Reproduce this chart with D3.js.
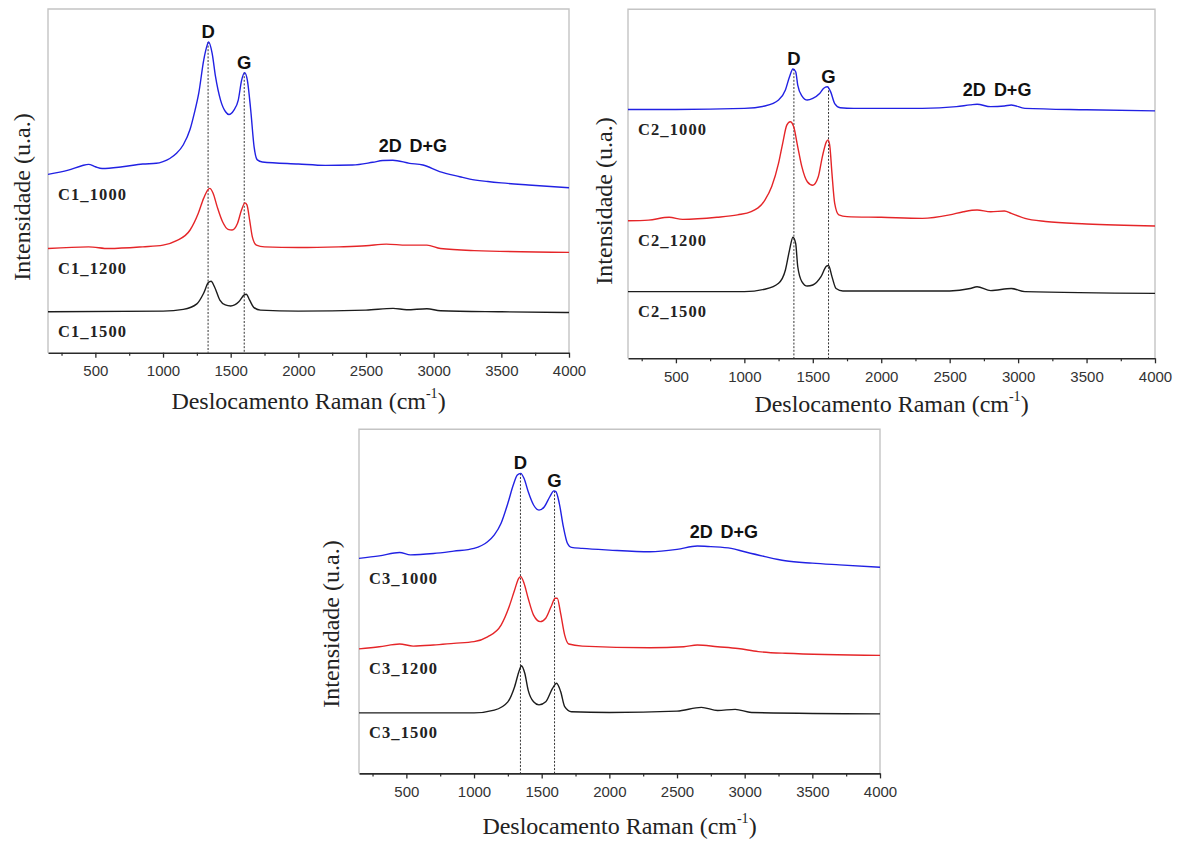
<!DOCTYPE html>
<html>
<head>
<meta charset="utf-8">
<script src="https://cdn.jsdelivr.net/npm/d3@7"></script>
<style>
  body { margin: 0; background: #fff; }
  svg { display: block; }
</style>
</head>
<body>
<svg id="chart" width="1184" height="842"></svg>
<script>
// Raman spectra, [wavenumber (cm-1), intensity (a.u.)]
const c1_1000 = [[150,51.9],[300,53.1],[400,54.4],[450,54.8],[500,54.1],[550,53.6],[700,54.1],[850,54.9],[950,55.1],[1000,55.6],[1050,56.5],[1100,58.0],[1150,60.5],[1200,65.0],[1230,69.5],[1264,75.5],[1301,85.2],[1320,88.6],[1337,90.4],[1363,87.1],[1388,80.3],[1425,73.5],[1462,70.1],[1487,69.3],[1524,70.6],[1556,73.5],[1581,79.3],[1603,81.5],[1623,79.3],[1648,70.6],[1673,59.9],[1697,56.1],[1734,55.5],[2000,54.9],[2200,54.5],[2400,54.6],[2550,55.4],[2624,55.9],[2698,56.0],[2822,55.1],[2921,54.6],[3044,52.7],[3193,51.2],[3267,50.5],[3400,49.8],[3500,49.4],[3700,48.8],[4000,48.0]];
const c1_1200 = [[150,30.3],[450,30.8],[600,30.3],[850,30.8],[1000,31.3],[1100,32.6],[1200,35.7],[1260,40.5],[1300,44.9],[1330,47.3],[1345,47.8],[1370,46.4],[1400,42.5],[1440,38.1],[1480,35.9],[1510,35.7],[1550,37.6],[1580,41.5],[1605,43.6],[1620,43.0],[1640,38.6],[1660,33.7],[1690,31.3],[1750,30.8],[2000,30.6],[2300,30.8],[2500,31.1],[2650,31.6],[2800,31.3],[2950,31.3],[3050,30.3],[3300,29.7],[4000,29.2]];
const c1_1500 = [[150,11.9],[1000,12.1],[1150,12.6],[1250,14.2],[1300,17.3],[1335,20.4],[1355,20.8],[1380,19.2],[1420,15.3],[1460,13.9],[1500,13.6],[1560,14.8],[1600,16.8],[1615,17.0],[1640,15.3],[1670,13.2],[1720,12.4],[2000,12.1],[2500,12.4],[2700,12.9],[2800,12.5],[2950,12.8],[3050,12.2],[3500,11.9],[4000,11.7]];

const c2_1000 = [[150,71.3],[500,71.3],[1000,71.6],[1150,72.3],[1250,74.0],[1300,76.9],[1330,80.7],[1355,82.9],[1375,82.1],[1390,78.3],[1420,75.2],[1460,74.0],[1500,74.5],[1550,75.9],[1580,77.4],[1605,77.8],[1630,76.4],[1660,73.0],[1700,71.8],[1800,71.6],[2300,71.6],[2550,72.1],[2650,72.6],[2700,72.8],[2800,72.1],[2900,72.3],[2950,72.6],[3050,71.6],[3500,71.2],[4000,70.9]];
const c2_1200 = [[150,39.4],[300,39.6],[450,40.4],[550,39.8],[800,40.4],[950,41.1],[1050,42.0],[1150,45.3],[1200,49.2],[1250,55.9],[1280,61.6],[1310,66.8],[1335,67.8],[1360,66.4],[1390,60.6],[1420,54.9],[1460,50.6],[1500,49.6],[1540,52.0],[1570,57.8],[1600,62.1],[1612,62.6],[1625,60.6],[1640,53.0],[1660,44.4],[1690,41.1],[1750,40.6],[2000,40.4],[2300,40.1],[2500,41.1],[2600,42.0],[2700,42.5],[2800,42.0],[2900,42.2],[2950,41.5],[3050,40.1],[3200,39.2],[3500,38.5],[4000,37.9]];
const c2_1500 = [[150,19.1],[1000,19.1],[1150,19.8],[1250,21.5],[1300,25.3],[1330,31.0],[1355,34.7],[1375,32.9],[1390,26.3],[1420,22.0],[1460,20.7],[1500,21.0],[1560,23.4],[1600,26.4],[1615,26.6],[1640,23.4],[1670,20.0],[1720,19.3],[2500,19.3],[2650,20.0],[2700,20.5],[2800,19.4],[2950,20.0],[3050,19.1],[4000,18.6]];

const c3_1000 = [[150,62.5],[300,63.2],[450,64.2],[530,63.5],[700,63.9],[850,64.6],[1000,65.4],[1100,67.3],[1150,69.3],[1200,72.7],[1250,78.5],[1290,83.8],[1320,86.7],[1345,87.2],[1370,85.7],[1400,81.9],[1440,78.0],[1480,76.5],[1520,77.5],[1560,80.4],[1590,82.1],[1605,81.9],[1630,78.5],[1660,71.7],[1690,66.9],[1720,65.7],[1800,65.4],[2000,64.9],[2300,64.4],[2500,65.1],[2650,66.1],[2750,65.9],[2900,65.4],[3000,64.4],[3150,63.0],[3300,61.8],[3500,61.1],[3700,60.6],[4000,59.9]];
const c3_1200 = [[150,36.2],[300,36.8],[450,37.6],[550,37.0],[700,37.3],[850,37.8],[1000,38.3],[1100,39.7],[1200,43.1],[1260,48.5],[1300,53.3],[1330,56.7],[1345,57.2],[1370,55.2],[1400,50.9],[1440,46.0],[1490,44.1],[1530,45.1],[1570,48.5],[1600,50.9],[1615,50.9],[1640,46.5],[1670,40.2],[1700,37.6],[1800,37.0],[2300,36.5],[2550,36.8],[2650,37.3],[2800,36.8],[2950,36.3],[3100,35.4],[3300,34.9],[4000,34.3]];
const c3_1500 = [[150,17.6],[1000,17.6],[1150,18.4],[1250,20.8],[1300,25.2],[1335,30.0],[1350,31.3],[1375,29.1],[1400,24.2],[1440,20.8],[1480,19.9],[1530,20.8],[1580,24.7],[1610,26.2],[1640,23.8],[1670,19.4],[1720,17.9],[2000,17.7],[2500,18.1],[2680,19.2],[2800,18.3],[2930,18.6],[3050,17.7],[4000,17.3]];

const sampleNames = [
  ["C1_1000", "C1_1200", "C1_1500"],
  ["C2_1000", "C2_1200", "C2_1500"],
  ["C3_1000", "C3_1200", "C3_1500"]
];
const seriesColors = ["#2121e3", "#e52528", "#1c1c1c"];

// Band positions marked on each panel (cm-1)
const dBand = [1333, 1362, 1343];
const gBand = [1600, 1615, 1595];
const overtoneLabels = ["2D", "D+G"];
const overtoneBands = [2680, 2960];

const xTickValues = [500, 1000, 1500, 2000, 2500, 3000, 3500, 4000];
const xMinorTicks = [250, 750, 1250, 1750, 2250, 2750, 3250, 3750];
const xDomain = [150, 4000];
const yDomain = [0, 100];

const panels = [
  { box: { left: 48, top: 9, right: 569, bottom: 352.7 }, series: [c1_1000, c1_1200, c1_1500], xTitleY: 401, yTitle: [21.5, 197] },
  { box: { left: 628, top: 9.3, right: 1155, bottom: 358.3 }, series: [c2_1000, c2_1200, c2_1500], xTitleY: 404, yTitle: [604, 201] },
  { box: { left: 359, top: 429.3, right: 880, bottom: 773.4 }, series: [c3_1000, c3_1200, c3_1500], xTitleY: 826, yTitle: [331, 624] }
];

const svg = d3.select("#chart");
const serif = "'Liberation Serif', 'Times New Roman', serif";
const sans = "'Liberation Sans', Arial, sans-serif";

panels.forEach((p, pi) => {
  const b = p.box;
  const x = d3.scaleLinear().domain(xDomain).range([b.left, b.right]);
  const y = d3.scaleLinear().domain(yDomain).range([b.bottom, b.top]);
  const g = svg.append("g").attr("class", "panel");

  // light frame on top, left and right
  g.append("path")
    .attr("d", `M${b.left},${b.bottom} V${b.top} H${b.right} V${b.bottom}`)
    .attr("fill", "none")
    .attr("stroke", "#c4c4c4")
    .attr("stroke-width", 1.4);

  // bottom axis: major and minor ticks
  const axis = d3.axisBottom(x).tickValues(xTickValues).tickSize(5).tickSizeOuter(0).tickPadding(6).tickFormat(d3.format("d"));
  const ax = g.append("g").attr("transform", `translate(0,${b.bottom})`).call(axis);
  ax.select(".domain").attr("stroke", "#2a2a2a").attr("stroke-width", 1.6);
  ax.selectAll(".tick line").attr("stroke", "#2a2a2a").attr("stroke-width", 1.3);
  ax.selectAll(".tick text")
    .attr("font-family", sans).attr("font-size", 15).attr("fill", "#333")
    .attr("dy", null).attr("y", 18).attr("dominant-baseline", "central");

  const minor = d3.axisBottom(x).tickValues(xMinorTicks).tickSize(3).tickFormat("");
  const mx = g.append("g").attr("transform", `translate(0,${b.bottom})`).call(minor);
  mx.select(".domain").remove();
  mx.selectAll(".tick line").attr("stroke", "#2a2a2a").attr("stroke-width", 1.2);

  // axis titles
  const xt = g.append("text")
    .attr("x", (b.left + b.right) / 2).attr("y", p.xTitleY)
    .attr("text-anchor", "middle").attr("dominant-baseline", "central")
    .attr("font-family", serif).attr("font-size", 24).attr("fill", "#222");
  xt.append("tspan").text("Deslocamento Raman (cm");
  xt.append("tspan").attr("dy", -8).attr("font-size", 14).text("-1");
  xt.append("tspan").attr("dy", 8).text(")");

  g.append("text")
    .attr("transform", `translate(${p.yTitle[0]},${p.yTitle[1]}) rotate(-90)`)
    .attr("text-anchor", "middle").attr("dominant-baseline", "central")
    .attr("font-family", serif).attr("font-size", 24).attr("fill", "#222")
    .text("Intensidade (u.a.)");

  // dotted guides at D and G bands, from the top spectrum down to the axis
  const top = p.series[0];
  const peakIn = (s, lo, hi) => d3.max(s.filter(d => d[0] >= lo && d[0] <= hi), d => d[1]);
  const dPeak = peakIn(top, 1250, 1450);
  const gPeak = peakIn(top, 1540, 1700);
  [[dBand[pi], dPeak, "D"], [gBand[pi], gPeak, "G"]].forEach(([band, peak, name]) => {
    g.append("line")
      .attr("x1", x(band)).attr("x2", x(band))
      .attr("y1", y(peak)).attr("y2", b.bottom)
      .attr("stroke", "#333").attr("stroke-width", 1)
      .attr("stroke-dasharray", "2,1.6");
    g.append("text")
      .attr("x", x(band)).attr("y", y(peak) - 4)
      .attr("text-anchor", "middle")
      .attr("font-family", sans).attr("font-weight", "bold").attr("font-size", 18.5).attr("fill", "#111")
      .text(name);
  });

  // overtone labels above the top spectrum
  const ovPeak = peakIn(top, 2500, 3000);
  overtoneLabels.forEach((name, i) => {
    g.append("text")
      .attr("x", x(overtoneBands[i])).attr("y", y(ovPeak) - 8)
      .attr("text-anchor", "middle")
      .attr("font-family", sans).attr("font-weight", "bold").attr("font-size", 18).attr("fill", "#111")
      .text(name);
  });

  // spectra
  const line = d3.line().x(d => x(d[0])).y(d => y(d[1])).curve(d3.curveMonotoneX);
  p.series.forEach((s, si) => {
    g.append("path")
      .datum(s)
      .attr("d", line)
      .attr("fill", "none")
      .attr("stroke", seriesColors[si])
      .attr("stroke-width", 1.4)
      .attr("stroke-linejoin", "round");

    g.append("text")
      .attr("x", b.left + 10).attr("y", y(s[0][1]) + 20)
      .attr("dominant-baseline", "central")
      .attr("font-family", serif).attr("font-weight", "bold").attr("font-size", 16.5)
      .attr("letter-spacing", 1.1).attr("fill", "#222")
      .text(sampleNames[pi][si]);
  });
});
</script>
</body>
</html>
